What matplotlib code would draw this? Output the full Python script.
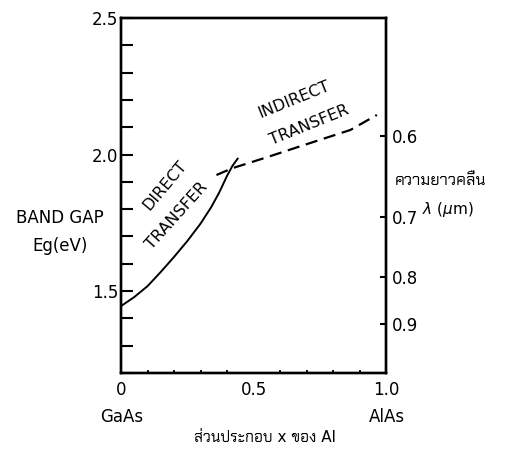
import matplotlib
matplotlib.use("Agg")
import matplotlib.pyplot as plt
import numpy as np

# mole fraction x of Al and band gap (eV)
x_direct = [0.0, 0.05, 0.10, 0.15, 0.20, 0.25, 0.30, 0.34, 0.37, 0.40, 0.42, 0.44]
eg_direct = [1.445, 1.478, 1.518, 1.57, 1.625, 1.683, 1.747, 1.807, 1.86, 1.922, 1.958, 1.985]
x_indirect = [0.36, 0.42, 0.55, 0.675, 0.865, 0.965]
eg_indirect = [1.925, 1.95, 1.99, 2.03, 2.09, 2.145]

y_ticks = [1.2, 1.3, 1.4, 1.5, 1.6, 1.7, 1.8, 1.9, 2.0, 2.1, 2.2, 2.3, 2.4, 2.5]
y_labels = ['', '', '', '1.5', '', '', '', '', '2.0', '', '', '', '', '2.5']
x_ticks = [0, 0.5, 1.0]
x_labels = ['0', '0.5', '1.0']
wavelengths = [0.6, 0.7, 0.8, 0.9]  # um, right axis (E = 1.24 / lambda)

thai = ['DejaVu Sans', 'Chakra Petch']

fig = plt.figure(figsize=(5.05, 4.51), dpi=100)
ax = fig.add_axes([0.2396, 0.173, 0.525, 0.787])

ax.plot(x_direct, eg_direct, color='black', lw=1.4)
ax.plot(x_indirect, eg_indirect, color='black', lw=1.6, dashes=(5.5, 3))

ax.set_xlim(0, 1.0)
ax.set_ylim(1.2, 2.5)
for s in ax.spines.values():
    s.set_linewidth(1.7)

ax.set_yticks(y_ticks)
ax.set_yticklabels(y_labels, fontsize=12)
ax.tick_params(axis='y', direction='in', length=8.5, width=1.5, pad=2)
ax.set_xticks(x_ticks)
ax.set_xticklabels(x_labels, fontsize=12)
ax.set_xticks(np.arange(0.1, 1.0, 0.1), minor=True)
ax.tick_params(axis='x', which='major', direction='in', length=0, pad=6)
ax.tick_params(axis='x', which='minor', direction='in', length=2.5, width=1.3)

rax = ax.twinx()
rax.set_ylim(1.2, 2.5)
rax.set_yticks([1.24 / w for w in wavelengths])
rax.set_yticklabels([f'{w:.1f}' for w in wavelengths], fontsize=12)
rax.tick_params(axis='y', direction='in', length=4.5, width=1.5, pad=4)
for s in rax.spines.values():
    s.set_linewidth(1.7)

# axis texts
fig.text(0.119, 0.517, 'BAND GAP', fontsize=12, ha='center', va='center')
fig.text(0.119, 0.455, 'Eg(eV)', fontsize=12, ha='center', va='center')
fig.text(0.782, 0.60, 'ความยาวคลื่น', fontsize=11.5, ha='left', va='center', family=thai)
fig.text(0.836, 0.536, r'$\lambda$ ($\mu$m)', fontsize=11, ha='left', va='center')
fig.text(0.240, 0.075, 'GaAs', fontsize=12, ha='center', va='center')
fig.text(0.766, 0.075, 'AlAs', fontsize=12, ha='center', va='center')
fig.text(0.525, 0.029, 'ส่วนประกอบ x ของ Al', fontsize=11, ha='center', va='center', family=thai)

# curve annotations
ax.text(0.166, 1.886, 'DIRECT', rotation=50, fontsize=11.5, ha='center', va='center')
ax.text(0.21, 1.776, 'TRANSFER', rotation=48, fontsize=11.5, ha='center', va='center')
ax.text(0.653, 2.20, 'INDIRECT', rotation=22, fontsize=11.5, ha='center', va='center')
ax.text(0.709, 2.108, 'TRANSFER', rotation=22, fontsize=11.5, ha='center', va='center')

fig.savefig('out.png', dpi=100)
